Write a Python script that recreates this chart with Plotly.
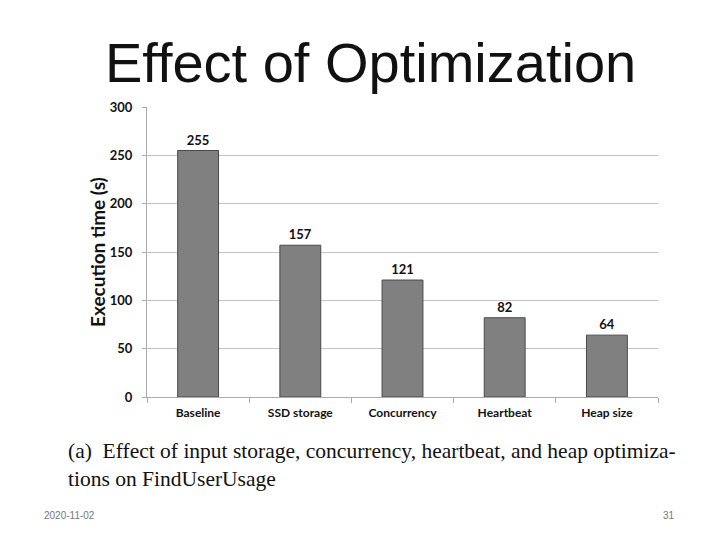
import plotly.graph_objects as go

categories = ["Baseline", "SSD storage", "Concurrency", "Heartbeat", "Heap size"]
exec_time = [255, 157, 121, 82, 64]
y_ticks = [0, 50, 100, 150, 200, 250, 300]

FONT = "Lato, Open Sans, sans-serif"

fig = go.Figure()
fig.add_trace(go.Bar(
    x=categories, y=exec_time,
    marker=dict(color="#808080", line=dict(color="#4a4a4a", width=1)),
    width=0.4,
    text=[str(v) for v in exec_time], textposition="outside",
    textfont=dict(family=FONT, size=13, color="#111", weight="bold"),
    cliponaxis=False,
))

fig.update_layout(
    width=720, height=540,
    paper_bgcolor="white", plot_bgcolor="white",
    margin=dict(l=147, r=62, t=107, b=143),
    showlegend=False,
    font=dict(family=FONT, color="#111"),
    xaxis=dict(
        type="category", tickson="boundaries", ticks="outside", ticklen=5,
        tickcolor="#aaa", showline=True, linecolor="#aaa", linewidth=1,
        showgrid=False, ticklabelstandoff=5,
        tickfont=dict(family=FONT, size=12, color="#111", weight="bold"),
    ),
    yaxis=dict(
        range=[0, 300], tickvals=y_ticks, ticks="outside", ticklen=4,
        tickcolor="#aaa", showline=True, linecolor="#aaa", linewidth=1,
        showgrid=True, gridcolor="#c4c4c4", gridwidth=1, zeroline=False,
        ticklabelstandoff=7,
        tickfont=dict(family=FONT, size=13, color="#111", weight="bold"),
    ),
    annotations=[
        dict(text="Effect of Optimization", xref="paper", yref="paper",
             x=(370 - 147) / 511, y=1 + (107 - 62) / 290, xanchor="center", yanchor="middle",
             showarrow=False,
             font=dict(family="Liberation Sans, Arial, sans-serif", size=56, color="#111", weight=300)),
        dict(text="Execution time (s)", xref="paper", yref="paper",
             x=-(147 - 97) / 511, y=0.5, xanchor="center", yanchor="middle", textangle=-90,
             showarrow=False,
             font=dict(family=FONT, size=19, color="#111", weight="bold")),
        dict(text="(a)  Effect of input storage, concurrency, heartbeat, and heap optimiza-<br>tions on FindUserUsage",
             xref="paper", yref="paper", x=-(147 - 66) / 511, y=-(437 - 397) / 290,
             xanchor="left", yanchor="top", align="left", showarrow=False,
             font=dict(family="Liberation Serif, Times New Roman, serif", size=21.5, color="#111")),
        dict(text="2020-11-02", xref="paper", yref="paper",
             x=-(147 - 42) / 511, y=-(515 - 397) / 290, xanchor="left", yanchor="middle",
             showarrow=False, font=dict(family="Liberation Sans, sans-serif", size=10, color="#777")),
        dict(text="31", xref="paper", yref="paper",
             x=1 + (677 - 658) / 511, y=-(515 - 397) / 290, xanchor="right", yanchor="middle",
             showarrow=False, font=dict(family="Liberation Sans, sans-serif", size=10, color="#777")),
    ],
)

fig.write_html("out.html", post_script="document.body.style.margin='0';",
               config={"displayModeBar": False})
